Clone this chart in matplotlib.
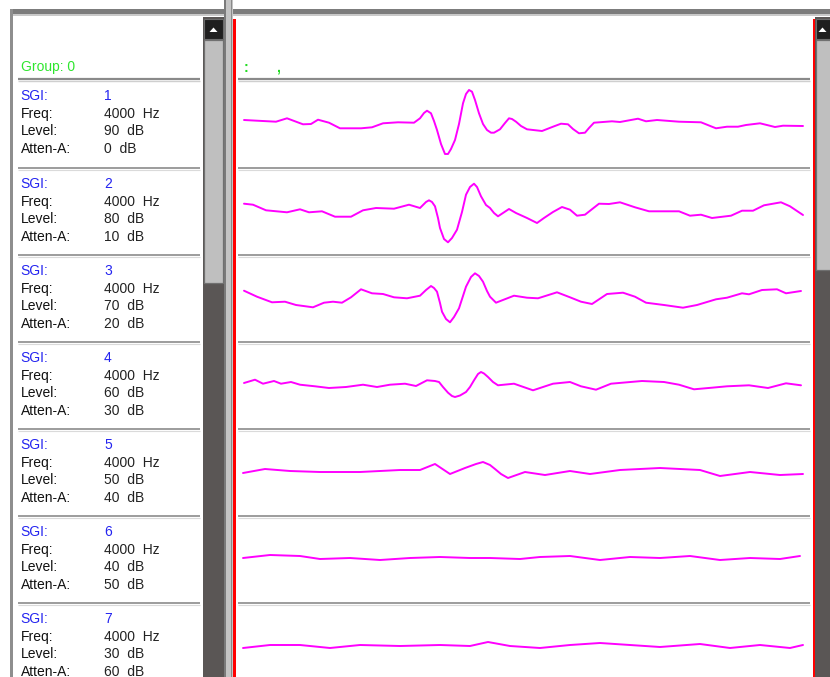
import matplotlib
matplotlib.use('Agg')
import matplotlib.pyplot as plt
from matplotlib.patches import Rectangle, Polygon

# ---------------- data ----------------
sgi = [1, 2, 3, 4, 5, 6, 7]
freq_hz = [4000, 4000, 4000, 4000, 4000, 4000, 4000]
level_db = [90, 80, 70, 60, 50, 40, 30]
atten_db = [0, 10, 20, 30, 40, 50, 60]
group_label = "Group: 0"

# waveform samples (sample index) and amplitudes (arbitrary units)
t1 = [1, 14, 33, 44, 60, 68, 75, 86, 97, 118, 129, 140, 155, 171, 177, 181, 184, 188, 191, 194,
      198, 202, 205, 208, 212, 216, 220, 223, 226, 229, 232, 236, 240, 244, 248, 251, 257, 262,
      266, 269, 273, 278, 284, 299, 310, 318, 325, 330, 336, 342, 346, 351, 369, 377, 395, 403,
      414, 436, 458, 473, 484, 495, 503, 517, 532, 540, 560]
v1 = [4, 3.3, 2.3, 5.7, -0.3, 0, 4.3, 1.3, -4.3, -4.3, -3.3, 0.7, 1.7, 1.3, 5.7, 11, 13.3, 10.7,
      3, -6, -20, -30, -30, -25, -16, 0, 20.7, 30, 34, 32.3, 24, 10.7, 0, -6, -8.7, -8.7, -5.3, 1,
      5.7, 5, 2.3, -2, -5.3, -7, -2.7, 0.3, -0.3, -5, -9.3, -8.7, -4, 1.3, 2.7, 2, 5.3, 2.7, 4,
      2.3, 1.7, -4.3, -2.7, -2.7, -1, 0.7, -3, -1.7, -2]

t2 = [1, 10, 23, 44, 57, 66, 79, 92, 108, 120, 133, 151, 166, 177, 183, 186, 189, 192, 195, 197,
      201, 205, 209, 214, 219, 223, 227, 231, 234, 238, 243, 247, 251, 255, 266, 273, 284, 294,
      301, 310, 319, 327, 334, 342, 356, 366, 377, 392, 406, 436, 447, 458, 469, 488, 499, 510,
      521, 538, 547, 560]
v2 = [8.3, 7.3, 1.7, -0.3, 2.7, -0.3, 0.7, -4.7, -4.7, 1.7, 4, 3.3, 7.3, 4, 10, 11.7, 10, 5.7,
      -6, -16, -27, -30.3, -26, -17.7, 0, 17.3, 25, 28.3, 25, 15.7, 7, 4, -1, -4.3, 3, -1, -6,
      -11, -6, 0, 5, 2.3, -3.7, -2.7, 8.3, 8, 9.7, 4.7, 0.7, 0.7, -3.7, -2.7, -6, -3.7, 1.3, 1.3,
      6.7, 9.7, 5.7, -3]

t3 = [1, 14, 29, 42, 53, 70, 81, 90, 99, 108, 118, 129, 140, 151, 164, 177, 183, 188, 191, 194,
      197, 199, 203, 207, 211, 216, 220, 223, 228, 232, 236, 240, 244, 247, 253, 271, 284, 295,
      314, 327, 338, 349, 364, 380, 392, 403, 421, 440, 454, 473, 484, 499, 506, 519, 534, 543, 558]
v3 = [8.3, 2.3, -3.3, -2.7, -6, -8.3, -3.7, -2.7, -3.7, 1.7, 9.7, 5.7, 5, 1.7, 0.7, 3.3, 9, 13,
      11, 7.3, -4, -12.7, -20, -23.3, -18, -9.3, 3, 12.3, 22, 25.7, 23, 17.3, 8, 2.3, -3.7, 3.3,
      1.3, 0.7, 6.7, 1.7, -2.7, -5, 5, 6.3, 2.3, -3.7, -6, -8.7, -6, -0.3, 1.3, 5.7, 4.7, 9, 9.7,
      5.7, 8]

t4 = [1, 12, 20, 31, 38, 48, 57, 72, 86, 103, 120, 134, 147, 162, 173, 184, 192, 196, 200, 205,
      209, 212, 217, 223, 227, 231, 235, 238, 241, 245, 250, 255, 271, 290, 310, 327, 338, 353,
      368, 399, 421, 436, 451, 469, 484, 506, 525, 543, 558]
v4 = [3, 6.3, 2.3, 5, 2.3, 4, 1.3, -0.3, -2, -1, 1.3, -1, 1.3, 2.3, 0, 5.7, 5, 4, -1, -6.7, -10,
      -11, -9.5, -6, -1, 5.7, 12, 14, 12.5, 9, 4, 0.7, 2.3, -4.3, 2.3, 4, -0.3, -3.7, 2.3, 5, 4,
      1.3, -3.3, -1.7, -0.3, 0.7, -2, 2.7, 0.7]

t5 = [0, 22, 47, 77, 117, 157, 177, 192, 207, 222, 233, 240, 247, 252, 258, 265, 282, 302, 327,
      347, 377, 417, 457, 477, 507, 537, 560]
v5 = [0, 4, 2, 1, 1, 3, 3, 9, -1, 5, 9, 11, 8, 4, -1, -5, 1, -2, 2, -1, 3, 5, 3, -3, 1, -2, -1]

t6 = [0, 27, 57, 77, 107, 137, 167, 197, 227, 247, 277, 297, 327, 357, 387, 417, 447, 477, 507,
      537, 557]
v6 = [2, 5, 4, 1, 2, 0, 2, 3, 2, 2, 1, 3, 4, 0, 3, 2, 4, 0, 2, 1, 4]

t7 = [0, 27, 57, 87, 117, 157, 197, 227, 245, 267, 297, 327, 357, 387, 417, 457, 487, 517, 547, 560]
v7 = [-1, 2, 2, -1, 2, 1, 2, 1, 5, 1, -1, 2, 4, 2, 0, 3, -1, 2, -1, 2]

times = [t1, t2, t3, t4, t5, t6, t7]
waves = [v1, v2, v3, v4, v5, v6, v7]

# ---------------- figure ----------------
plt.rcParams['font.family'] = ['Liberation Sans', 'DejaVu Sans']
W, H = 830, 677
fig = plt.figure(figsize=(W / 100, H / 100), dpi=100)
fig.patch.set_facecolor('white')
bg = fig.add_axes([0, 0, 1, 1])
bg.set_xlim(0, W)
bg.set_ylim(H, 0)
bg.axis('off')


def rect(x0, y0, x1, y1, fc, ec='none', lw=0, z=1):
    bg.add_patch(Rectangle((x0, y0), x1 - x0, y1 - y0, facecolor=fc, edgecolor=ec,
                           linewidth=lw, zorder=z))


# top border and left border
rect(10, 9, W, 13.5, '#7c7c7c')
rect(10, 13.5, W, 16, '#c9c9c9')
rect(10, 9, 12.5, H, '#8e8e8e')

# vertical divider between panels
rect(224, 0, 233, H, '#c4c4c4')
rect(224, 0, 225.5, H, '#7a7a7a')
rect(230.5, 0, 232, H, '#8a8a8a')

# left scrollbar
rect(203, 17, 224, H, '#5a5655')
rect(204, 19, 223, 38.5, '#1f1f1f', ec='#6c6c6c', lw=0.8, z=2)
bg.add_patch(Polygon([[209.5, 32], [217.5, 32], [213.5, 27.5]], closed=True,
                     facecolor='white', edgecolor='none', zorder=3))
rect(204, 40, 223, 283, '#bfbfbf', ec='#707070', lw=0.9, z=2)

# right scrollbar
rect(815, 17, W, H, '#5a5655')
rect(816, 19, W + 2, 38.5, '#1f1f1f', ec='#6c6c6c', lw=0.8, z=2)
bg.add_patch(Polygon([[818.5, 32], [826.5, 32], [822.5, 27.5]], closed=True,
                     facecolor='white', edgecolor='none', zorder=3))
rect(816, 40, W + 2, 270, '#bfbfbf', ec='#707070', lw=0.9, z=2)

# right panel red borders
rect(233, 19, 235.5, H, '#ff0000', z=3)
rect(812.5, 19, 815, H, '#ff0000', z=3)

# separators
seps = [168, 255, 342, 429, 516, 603]
for (xa, xb) in [(18, 200), (238, 810)]:
    bg.plot([xa, xb], [79, 79], color='#8a8a8a', lw=1.6, solid_capstyle='butt', zorder=2)
    bg.plot([xa, xb], [81.3, 81.3], color='#cfcfcf', lw=1.0, solid_capstyle='butt', zorder=2)
    for s in seps:
        bg.plot([xa, xb], [s, s], color='#9c9c9c', lw=1.4, solid_capstyle='butt', zorder=2)
        bg.plot([xa, xb], [s + 1.6, s + 1.6], color='#dadada', lw=0.8, solid_capstyle='butt', zorder=2)

# header texts
fs = 10
green = '#2ee62e'
blue = '#2424f0'
bg.text(20.5, 71.5, group_label, color=green, fontsize=fs, va='baseline', ha='left')
bg.text(244, 72, ':', color='#22dd22', fontsize=fs, fontweight='bold', va='baseline', ha='left')
bg.text(276, 72, ',', color='#22dd22', fontsize=fs, fontweight='bold', va='baseline', ha='left')

row_tops = [80] + seps
for i, top in enumerate(row_tops):
    bg.text(20.5, top + 20, 'SGI:', color=blue, fontsize=fs, va='baseline')
    bg.text(104, top + 20, str(sgi[i]), color=blue, fontsize=fs, va='baseline')
    bg.text(20.5, top + 38, 'Freq:', color='#111111', fontsize=fs, va='baseline')
    bg.text(104, top + 38, f'{freq_hz[i]}  Hz', color='#222222', fontsize=fs, va='baseline')
    bg.text(20.5, top + 55, 'Level:', color='#111111', fontsize=fs, va='baseline')
    bg.text(104, top + 55, f'{level_db[i]}  dB', color='#222222', fontsize=fs, va='baseline')
    bg.text(20.5, top + 73, 'Atten-A:', color='#111111', fontsize=fs, va='baseline')
    bg.text(104, top + 73, f'{atten_db[i]}  dB', color='#222222', fontsize=fs, va='baseline')

# waveform axes
x_left, x_right = 236, 812
for i, top in enumerate(row_tops):
    h = 87
    ax = fig.add_axes([x_left / W, 1 - (top + h) / H, (x_right - x_left) / W, h / H])
    ax.set_xlim(-7, 569)
    ax.set_ylim(-43, 44)
    ax.patch.set_alpha(0)
    ax.axis('off')
    ax.plot(times[i], waves[i], color='#ff00ff', lw=1.4, solid_joinstyle='round',
            solid_capstyle='round')

fig.savefig('out.png', dpi=100, facecolor='white')
